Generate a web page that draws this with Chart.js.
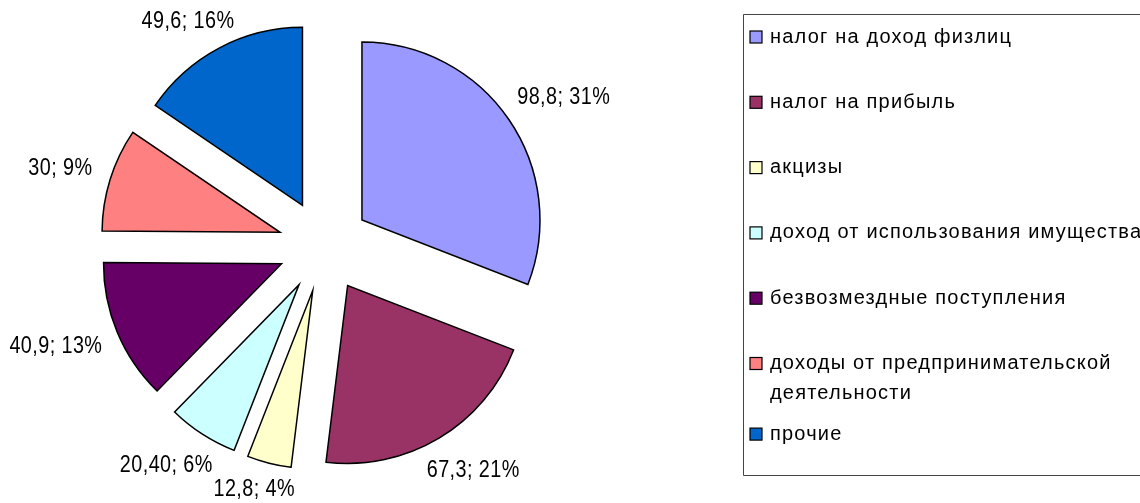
<!DOCTYPE html>
<html>
<head>
<meta charset="utf-8">
<script src="https://cdn.jsdelivr.net/npm/chart.js@4/dist/chart.umd.min.js"></script>
<style>
  html, body { margin: 0; padding: 0; background: #ffffff; overflow: hidden; }
  #wrap { position: relative; width: 1140px; height: 503px; }
</style>
</head>
<body>
<div id="wrap"><canvas id="c"></canvas></div>
<script>
// ---- data ----
const categories = [
  'налог на доход физлиц',
  'налог на прибыль',
  'акцизы',
  'доход от использования имущества',
  'безвозмездные поступления',
  ['доходы от предпринимательской', 'деятельности'],
  'прочие'
];
const values = [98.8, 67.3, 12.8, 20.4, 40.9, 30, 49.6];
const valueDecimals = [1, 1, 1, 2, 1, 0, 1];
const colors = ['#9999FF', '#993366', '#FFFFCC', '#CCFFFF', '#660066', '#FF8080', '#0066CC'];

// ---- layout / style ----
const PIE_R = 178;
const EXPLODE = 46;
const LABEL_FONT = '23px "Liberation Sans", Arial, sans-serif';
const LABEL_SCALE_X = 0.86;
const LEGEND_FONT = '20px "Liberation Sans", Arial, sans-serif';

const explodePlugin = {
  id: 'explode',
  afterDatasetsUpdate(chart) {
    const meta = chart.getDatasetMeta(0);
    meta.data.forEach(arc => {
      const mid = (arc.startAngle + arc.endAngle) / 2;
      arc.x = arc.x + Math.cos(mid) * EXPLODE;
      arc.y = arc.y + Math.sin(mid) * EXPLODE;
    });
  }
};

const labelPlugin = {
  id: 'sliceLabels',
  afterDatasetsDraw(chart) {
    const ctx = chart.ctx;
    const meta = chart.getDatasetMeta(0);
    const data = chart.data.datasets[0].data;
    const total = data.reduce((a, b) => a + b, 0);
    ctx.save();
    ctx.font = LABEL_FONT;
    try { ctx.letterSpacing = '0.5px'; } catch (e) {}
    ctx.fillStyle = '#000';
    ctx.textAlign = 'center';
    ctx.textBaseline = 'middle';
    meta.data.forEach((arc, i) => {
      const mid = (arc.startAngle + arc.endAngle) / 2;
      const dx = Math.cos(mid), dy = Math.sin(mid);
      const txt = data[i].toFixed(valueDecimals[i]).replace('.', ',') + '; ' +
                  Math.round(data[i] / total * 100) + '%';
      const w = ctx.measureText(txt).width * LABEL_SCALE_X, h = 36;
      const r = arc.outerRadius + 20;
      const x = arc.x + dx * r + dx * w / 2;
      let y = arc.y + dy * r + dy * h / 2;
      y = Math.max(22, Math.min(chart.height - 13, y));
      ctx.save();
      ctx.translate(x, y);
      ctx.scale(LABEL_SCALE_X, 1);
      ctx.fillText(txt, 0, 0);
      ctx.restore();
    });
    ctx.restore();
  }
};

const boxLegendPlugin = {
  id: 'boxLegend',
  afterDraw(chart) {
    const ctx = chart.ctx;
    const labels = chart.data.labels;
    const bg = chart.data.datasets[0].backgroundColor;
    ctx.save();
    ctx.strokeStyle = '#444';
    ctx.lineWidth = 1;
    ctx.beginPath();
    ctx.moveTo(1200, 14.5);
    ctx.lineTo(743.5, 14.5);
    ctx.lineTo(743.5, 475.5);
    ctx.lineTo(1200, 475.5);
    ctx.stroke();
    ctx.font = LEGEND_FONT;
    try { ctx.letterSpacing = '1.2px'; } catch (e) {}
    ctx.textBaseline = 'middle';
    ctx.textAlign = 'left';
    let y = 37;
    labels.forEach((lab, i) => {
      const lines = Array.isArray(lab) ? lab : [lab];
      ctx.fillStyle = bg[i];
      ctx.fillRect(750, y - 6, 12, 12);
      ctx.strokeStyle = '#000';
      ctx.lineWidth = 1.2;
      ctx.strokeRect(750, y - 6, 12, 12);
      ctx.fillStyle = '#000';
      lines.forEach((ln, k) => ctx.fillText(ln, 770, y + k * 30));
      y += 60 + 5.3 * lines.length;
    });
    ctx.restore();
  }
};

new Chart(document.getElementById('c'), {
  type: 'pie',
  data: {
    labels: categories,
    datasets: [{
      data: values,
      backgroundColor: colors,
      borderColor: '#000000',
      borderWidth: 1.5,
      borderJoinStyle: 'miter'
    }]
  },
  options: {
    responsive: true,
    maintainAspectRatio: false,
    animation: false,
    events: [],
    radius: PIE_R,
    layout: { padding: { left: 0, top: 0, right: 492, bottom: 11 } },
    plugins: {
      legend: { display: false },
      tooltip: { enabled: false }
    }
  },
  plugins: [explodePlugin, labelPlugin, boxLegendPlugin]
});
</script>
</body>
</html>
